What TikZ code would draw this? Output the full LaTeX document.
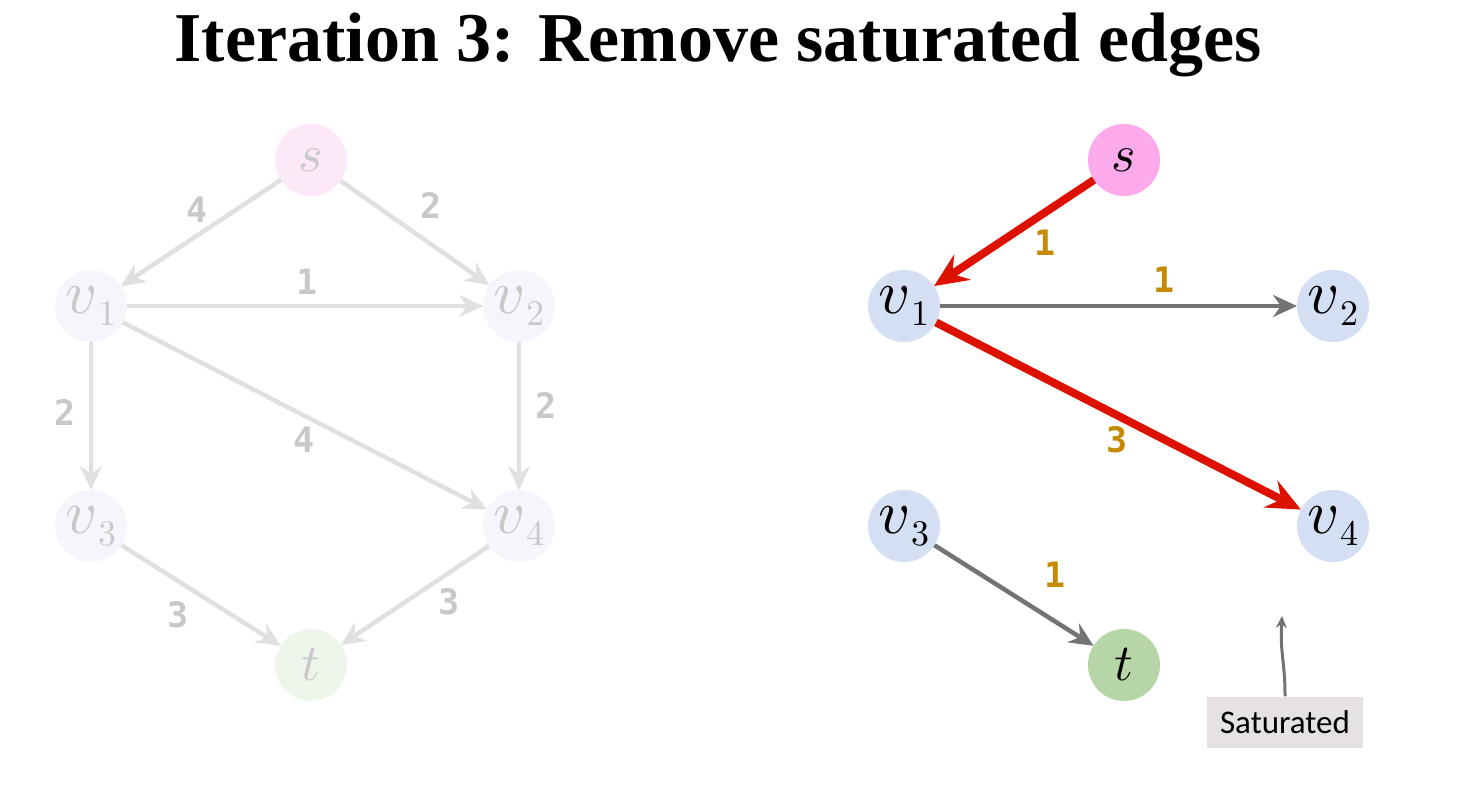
\documentclass[tikz,border=0pt]{standalone}
\usepackage{graphicx}
\usepackage[no-math]{fontspec}
\setmainfont{Liberation Serif}
\newfontfamily\monofnt{DejaVu Sans Mono}
\newfontfamily\calfnt{Carlito}
\usetikzlibrary{arrows.meta}
\newcommand\mlab[1]{\scalebox{5.2}{$#1$}}
\newcommand\vsub[1]{\scalebox{6.2}{$v$}\raisebox{-12pt}{\scalebox{3.6}{$#1$}}}
\definecolor{fadeedge}{HTML}{E0E0E0}
\definecolor{fadetext}{HTML}{C8C8C8}
\definecolor{fades}{HTML}{FDE8F8}
\definecolor{fadev}{HTML}{F5F6FB}
\definecolor{fadet}{HTML}{EEF6EB}
\definecolor{sfill}{HTML}{FCAAEC}
\definecolor{vfill}{HTML}{D4DFF3}
\definecolor{tfill}{HTML}{B6D6A8}
\definecolor{grayedge}{HTML}{737373}
\definecolor{rededge}{HTML}{DD1100}
\definecolor{orangelbl}{HTML}{C58A00}
\definecolor{boxfill}{HTML}{E5E1E5}
\begin{document}
\begin{tikzpicture}[x=1pt,y=-1pt,
  vert/.style={circle,minimum size=72pt,inner sep=0pt,outer sep=0pt},
  fadevert/.style={vert,text=fadetext},
  fadearrow/.style={draw=fadeedge,line width=4.5pt,-{Stealth[length=24pt,width=22pt,inset=8pt]}},
  grayarrow/.style={draw=grayedge,line width=4.5pt,-{Stealth[length=24pt,width=22pt,inset=8pt]}},
  redarrow/.style={draw=rededge,line width=8pt,-{Stealth[length=34pt,width=30pt,inset=12pt]}},
  fadelbl/.style={font=\monofnt\bfseries\fontsize{35}{35}\selectfont,text=fadetext,inner sep=0pt},
  lbl/.style={font=\monofnt\bfseries\fontsize{35}{35}\selectfont,text=orangelbl,inner sep=0pt}
]
\useasboundingbox (0,0) rectangle (1459,797);
\node[font=\bfseries\fontsize{70}{70}\selectfont,inner sep=0pt,anchor=base] (title) at (718,62) {Iteration 3: Remove saturated edges};

% left faded graph
\node[fadevert,fill=fades] (ls) at (311,160) {\mlab{s}};
\node[fadevert,fill=fadev] (lv1) at (91,306) {\vsub{1}};
\node[fadevert,fill=fadev] (lv2) at (519,306) {\vsub{2}};
\node[fadevert,fill=fadev] (lv3) at (91,526) {\vsub{3}};
\node[fadevert,fill=fadev] (lv4) at (519,526) {\vsub{4}};
\node[fadevert,fill=fadet] (lt) at (311,665) {\mlab{t}};
\draw[fadearrow] (ls) -- (lv1);
\draw[fadearrow] (ls) -- (lv2);
\draw[fadearrow] (lv1) -- (lv2);
\draw[fadearrow] (lv1) -- (lv3);
\draw[fadearrow] (lv1) -- (lv4);
\draw[fadearrow] (lv2) -- (lv4);
\draw[fadearrow] (lv3) -- (lt);
\draw[fadearrow] (lv4) -- (lt);
\node[fadelbl] (l1) at (197,210) {4};
\node[fadelbl] (l2) at (431,206) {2};
\node[fadelbl] (l3) at (307,282) {1};
\node[fadelbl] (l4) at (65,413) {2};
\node[fadelbl] (l5) at (304,440) {4};
\node[fadelbl] (l6) at (546,406) {2};
\node[fadelbl] (l7) at (178,615) {3};
\node[fadelbl] (l8) at (449,602) {3};

% right graph
\node[vert,fill=sfill] (rs) at (1124,160) {\mlab{s}};
\node[vert,fill=vfill] (rv1) at (904,306) {\vsub{1}};
\node[vert,fill=vfill] (rv2) at (1333,306) {\vsub{2}};
\node[vert,fill=vfill] (rv3) at (904,526) {\vsub{3}};
\node[vert,fill=vfill] (rv4) at (1333,526) {\vsub{4}};
\node[vert,fill=tfill] (rt) at (1124,665) {\mlab{t}};
\draw[redarrow] (rs) -- (rv1);
\draw[grayarrow] (rv1) -- (rv2);
\draw[redarrow] (rv1) -- (rv4);
\draw[grayarrow] (rv3) -- (rt);
\node[lbl] (r1) at (1045,243) {1};
\node[lbl] (r2) at (1164,280) {1};
\node[lbl] (r3) at (1117,440) {3};
\node[lbl] (r4) at (1055,575) {1};

% saturated annotation
\node[fill=boxfill,minimum width=156pt,minimum height=51pt,inner sep=0pt,font=\calfnt\fontsize{33}{33}\selectfont] (sat) at (1285,722) {Saturated};
\coordinate (tip) at (1282,616);
\draw[draw=grayedge,line width=3pt,-{Stealth[length=12pt,width=11pt]}] (sat.north) .. controls (1285,660) and (1280,655) .. (tip);
\end{tikzpicture}
\end{document}
